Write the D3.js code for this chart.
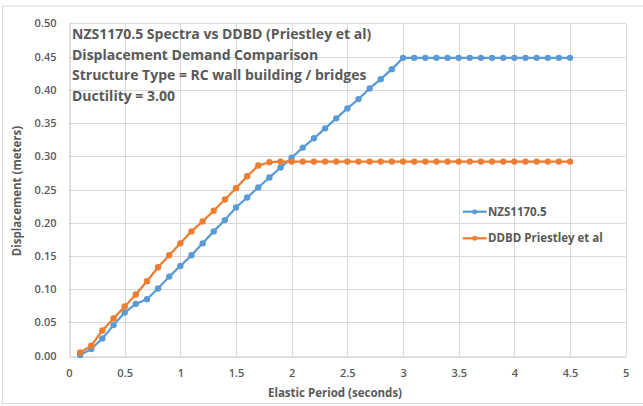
<!DOCTYPE html>
<html><head><meta charset="utf-8">
<script src="https://cdn.jsdelivr.net/npm/d3@7"></script>
<style>
body{margin:0;background:#fff;}
text{font-family:"Open Sans",Lato,sans-serif;font-weight:600;fill:#595959;}
</style></head>
<body><svg id="c" width="643" height="406"></svg>
<script>
const periods = [0.1,0.2,0.3,0.4,0.5,0.6,0.7,0.8,0.9,1.0,1.1,1.2,1.3,1.4,1.5,1.6,1.7,1.8,1.9,2.0,2.1,2.2,2.3,2.4,2.5,2.6,2.7,2.8,2.9,3.0,3.1,3.2,3.3,3.4,3.5,3.6,3.7,3.8,3.9,4.0,4.1,4.2,4.3,4.4,4.5];
const nzs = [0.001,0.010,0.026,0.046,0.065,0.078,0.085,0.101,0.119,0.135,0.151,0.169,0.187,0.204,0.223,0.238,0.253,0.268,0.283,0.298,0.313,0.327,0.342,0.357,0.372,0.386,0.402,0.416,0.431,0.448,0.448,0.448,0.448,0.448,0.448,0.448,0.448,0.448,0.448,0.448,0.448,0.448,0.448,0.448,0.448];
const ddbd = [0.005,0.015,0.038,0.056,0.074,0.092,0.112,0.133,0.151,0.169,0.187,0.202,0.218,0.235,0.252,0.270,0.286,0.291,0.292,0.292,0.292,0.292,0.292,0.292,0.292,0.292,0.292,0.292,0.292,0.292,0.292,0.292,0.292,0.292,0.292,0.292,0.292,0.292,0.292,0.292,0.292,0.292,0.292,0.292,0.292];
const seriesNames = ["NZS1170.5","DDBD Priestley et al"];
const seriesColors = ["#5B9BD5","#ED7D31"];
const xTicks = [0,0.5,1,1.5,2,2.5,3,3.5,4,4.5,5];
const yTicks = [0,0.05,0.10,0.15,0.20,0.25,0.30,0.35,0.40,0.45,0.50];
const titleLines = ["NZS1170.5 Spectra vs DDBD (Priestley et al)","Displacement Demand Comparison","Structure Type = RC wall building / bridges","Ductility = 3.00"];
const xTitle = "Elastic Period (seconds)";
const yTitle = "Displacement (meters)";

const svg = d3.select("#c");
svg.append("rect").attr("x",2.5).attr("y",6).attr("width",660).attr("height",397.5)
  .attr("fill","none").attr("stroke","#d9d9d9").attr("stroke-width",1);

const L=69, R=625.7, T=23.3, B=355.7;
const x = d3.scaleLinear().domain([0,5]).range([L,R]);
const y = d3.scaleLinear().domain([0,0.5]).range([B,T]);

const g = svg.append("g");
g.selectAll(".hg").data(yTicks.slice(1)).join("line")
  .attr("x1",L).attr("x2",R).attr("y1",d=>Math.round(y(d))+0.5).attr("y2",d=>Math.round(y(d))+0.5)
  .attr("stroke","#d9d9d9").attr("stroke-width",1);
g.selectAll(".vg").data(xTicks.slice(1)).join("line")
  .attr("y1",T).attr("y2",B).attr("x1",d=>Math.round(x(d))+0.5).attr("x2",d=>Math.round(x(d))+0.5)
  .attr("stroke","#d9d9d9").attr("stroke-width",1);

const xAxis = d3.axisBottom(x).tickValues(xTicks).tickFormat(d3.format("")).tickSize(0).tickPadding(13);
const xg = svg.append("g").attr("transform",`translate(0,${Math.round(B)+0.5})`).call(xAxis);
xg.select(".domain").attr("stroke","#bfbfbf");
xg.selectAll("text").style("font-size","11px").attr("fill","#595959");
const yAxis = d3.axisLeft(y).tickValues(yTicks).tickFormat(d3.format(".2f")).tickSize(0).tickPadding(13);
const yg = svg.append("g").attr("transform",`translate(${Math.round(L)+0.5},0)`).call(yAxis);
yg.select(".domain").attr("stroke","#bfbfbf");
yg.selectAll("text").style("font-size","11px").attr("fill","#595959");

svg.append("text").attr("x",335).attr("y",397).attr("text-anchor","middle").style("font-size","11.5px").style("font-weight","700").text(xTitle);
svg.append("text").attr("transform",`translate(21,191) rotate(-90)`).attr("text-anchor","middle").style("font-size","11.5px").style("font-weight","700").text(yTitle);

const datasets = [nzs, ddbd];
const line = d3.line().x(d=>x(d[0])).y(d=>y(d[1]));
datasets.forEach((vals,i)=>{
  const pts = periods.map((p,k)=>[p,vals[k]]);
  svg.append("path").datum(pts).attr("d",line).attr("fill","none")
    .attr("stroke",seriesColors[i]).attr("stroke-width",2.25).attr("stroke-linejoin","round");
  svg.append("g").selectAll("circle").data(pts).join("circle")
    .attr("cx",d=>x(d[0])).attr("cy",d=>y(d[1])).attr("r",3.2).attr("fill",seriesColors[i]);
});

svg.append("g").selectAll("text").data(titleLines).join("text")
  .attr("x",72).attr("y",(d,i)=>39+i*20.5).style("font-size","14px").style("font-weight","700").attr("fill","#595959").text(d=>d);

const lg = svg.append("g");
seriesNames.forEach((n,i)=>{
  const ly = 211.7 + i*26.6;
  lg.append("line").attr("x1",462.7).attr("x2",486.7).attr("y1",ly).attr("y2",ly).attr("stroke",seriesColors[i]).attr("stroke-width",2.25);
  lg.append("circle").attr("cx",474.7).attr("cy",ly).attr("r",2.5).attr("fill",seriesColors[i]);
  lg.append("text").attr("x",488).attr("y",ly+4).style("font-size","11.5px").style("font-weight","700").text(n);
});
</script></body></html>
